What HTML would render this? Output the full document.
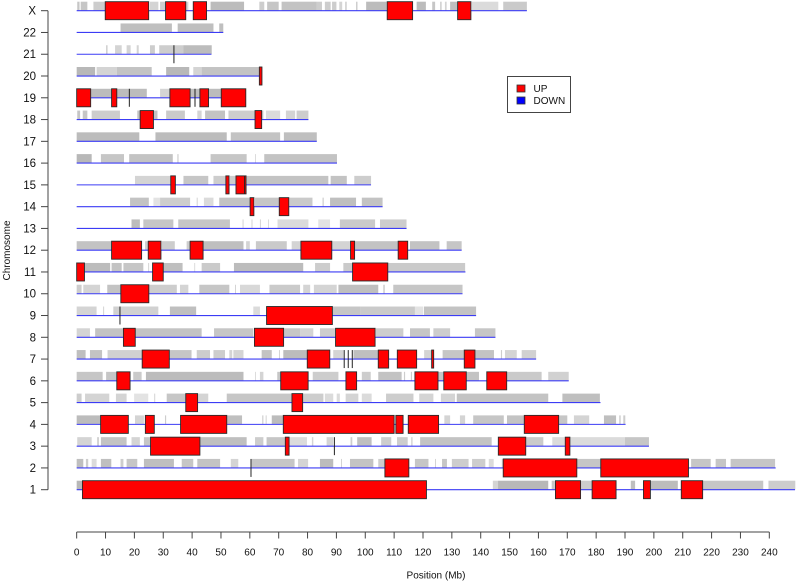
<!DOCTYPE html>
<html lang="en">
<head>
<meta charset="utf-8">
<title>Chromosome regions plot</title>
<style>
html,body{margin:0;padding:0;background:#fff;}
#chart{display:block;width:797px;height:584px;}
text{font-family:"Liberation Sans",Arial,sans-serif;fill:#111;}
</style>
</head>
<body>
<svg id="chart" xmlns="http://www.w3.org/2000/svg" width="797" height="584" viewBox="0 0 797 584">
  <g id="rows"></g>
  <g id="y-axis"></g>
  <g id="x-axis"></g>
  <text transform="translate(10,250.5) rotate(-90)" text-anchor="middle" font-size="10">Chromosome</text>
  <text x="436" y="578.5" text-anchor="middle" font-size="10">Position (Mb)</text>
  <g>
    <rect x="507.5" y="76.5" width="63" height="36" fill="#fff" stroke="#444" stroke-width="1"/>
    <rect x="517" y="85" width="8" height="7" fill="#ff0000" stroke="#333" stroke-width="0.8"/>
    <text x="533.5" y="92" font-size="10">UP</text>
    <rect x="517" y="97" width="8" height="7" fill="#0000ff" stroke="#333" stroke-width="0.8"/>
    <text x="533.5" y="104" font-size="10">DOWN</text>
  </g>
</svg>
<script>
// Chromosomes, bottom row first
const chromosomes = ['1','2','3','4','5','6','7','8','9','10','11','12','13','14','15','16','17','18','19','20','21','22','X'];
// Chromosome lengths in Mb
const chromLengths = [248.9,242.2,198.3,190.2,181.5,170.5,159.2,145.1,138.4,133.7,134.7,133.4,114.3,106,102,90.2,83.2,80.3,58.6,64.2,46.7,50.8,156];
// UP regions [start, end] in Mb
const upRegions = [
 [[2,121.2],[165.9,174.6],[178.6,186.9],[196.4,198.8],[209.5,216.9]],
 [[106.8,115.1],[147.8,173.3],[181.6,212]],
 [[25.6,42.7],[72.3,73.6],[146.1,155.6],[169.3,170.9]],
 [[8.3,17.9],[23.8,26.9],[36,52],[71.6,110],[110.6,113.1],[114.9,125.4],[155.1,167]],
 [[37.8,41.9],[74.6,78.3]],
 [[13.9,18.5],[70.7,80.2],[93.3,97],[117.2,125.2],[127.2,135],[142.1,149]],
 [[22.7,32.1],[79.9,87.7],[104.5,108.1],[111.1,117.8],[123,123.7],[134.3,138]],
 [[16.2,20.3],[61.6,71.7],[89.7,103.4]],
 [[65.8,88.6]],
 [[15.3,25]],
 [[0,2.7],[26.3,30],[95.6,107.8]],
 [[12.1,22.5],[24.8,29.2],[39.3,43.8],[77.7,88.4],[94.9,96.3],[111.4,114.7]],
 [],
 [[60.1,61.4],[70.2,73.5]],
 [[32.6,34.2],[51.7,52.8],[55.2,58.7]],
 [],
 [],
 [[22,26.6],[61.8,64.1]],
 [[0,4.85],[12.1,13.9],[32.3,39.3],[42.7,45.7],[50.1,58.6]],
 [[63.3,64.2]],
 [],
 [],
 [[9.9,24.95],[30.8,37.8],[40.4,45],[107.6,116.4],[132,136.6]]
];
// Very narrow regions, drawn as single dark marks (Mb)
const narrowRegions = [[],[60.4],[89.3],[],[],[],[92.7,94.1,95.5],[],[15],[],[],[],[],[],[58.2],[],[],[],[18.25,41],[],[33.7],[],[]];
// Measured probes [start, end, relative density] in Mb
const probeRegions = [
 [[0,2,1],[144.2,146,.6],[146,163.4,1],[164.6,165.7,.8],[174.6,178.5,.7],[192,193.5,.9],[198.8,208.3,.95],[216.9,237.9,.8],[239.7,249,.7]],
 [[0,2.3,.9],[3.2,4,.7],[5.2,6.9,.5],[8.4,12,.9],[15.2,16.2,.7],[17.3,21,.8],[23.3,33.7,.9],[36.4,40.4,.8],[41.8,49.7,.85],[53.4,56,.6],[60.6,75.5,.8],[76.7,80.2,.6],[84.3,88.9,.95],[91.6,91.9,.7],[94.7,102.8,.85],[104.5,106.8,.7],[117.2,121.9,.8],[124.2,124.5,.7],[126.6,128.3,.8],[130,135.8,.7],[137,141.6,.7],[142.8,144.5,.5],[147.3,147.8,.6],[173.3,181.6,.8],[212.9,219.7,.8],[221.4,225,.8],[226.6,242,.8]],
 [[.2,5.2,.6],[7.1,7.7,.7],[8.4,17.3,.85],[19,21.9,.6],[23.3,25.6,.8],[42.7,58.9,.9],[61.8,64.7,.7],[65.8,72.3,.8],[73.6,79.8,.5],[81.5,82,.6],[86.6,88.9,.6],[94.9,95.5,.7],[97.2,102.2,.9],[105.5,109,.7],[111,114.7,.7],[115.9,116.4,.6],[119,143.8,.85],[155.6,161.7,.75],[164.8,169.2,.5],[170.9,178.2,.5],[178.2,190,.5],[190,198.3,.8]],
 [[0,8.3,.95],[20.2,23.3,.6],[30.6,31,.7],[52,57.3,.9],[64.3,64.7,.7],[65.5,65.8,.7],[67.6,71.6,.95],[127.4,129.4,.6],[132.8,134.6,.6],[137.4,148,.8],[149.1,155.1,.85],[167,170,.8],[172.3,177.6,.6],[182.7,186.9,.9],[188,188.5,.7],[189.4,190.1,.7]],
 [[0,1.7,.7],[2.9,11.3,.6],[13.6,17.3,.6],[19.9,24.8,.4],[26.9,27.2,.7],[31.2,37.8,.8],[41.9,45.6,.6],[52,74.5,.8],[78.3,85.5,.7],[86,88.9,.5],[90.1,91.2,.5],[93.2,97.6,.6],[98.8,102.2,.5],[107.2,116.7,.7],[118.7,123.6,.6],[126.2,131.1,.6],[131.7,163.4,.85],[168.3,181.3,.9]],
 [[0,9,.8],[10.2,13.9,.8],[19.6,22.5,.75],[24,57.8,.95],[61.8,62,.7],[63.5,64.7,.6],[69.5,70.7,.8],[81.8,90.7,.7],[98.8,101.9,.7],[104.5,112.6,.85],[113.4,113.8,.7],[115.8,116.2,.7],[125.2,127.2,.8],[135,139.4,.85],[149,161.1,.75],[163.4,170.5,.65]],
 [[0,3.1,.9],[4.6,8.8,.85],[10.7,22.6,.65],[32.1,39.8,.8],[41.6,46.2,.7],[47.4,51.4,.7],[52.9,53.9,.6],[54.3,57.8,.6],[64.1,67.6,.85],[70.1,70.4,.7],[71.6,79.9,.95],[88.9,92.4,.6],[95.9,104.5,.9],[120.4,123,.6],[126.8,134.3,.8],[138,144.6,.85],[147,147.4,.7],[148.4,152.5,.6],[154.2,159.2,.65]],
 [[0,4.6,.6],[6.4,16.2,.85],[20.3,43.3,.85],[47.6,61.2,.8],[71.7,77.4,.8],[77.4,82,.6],[84.3,89.5,.7],[103.7,113.2,.7],[115.5,122.4,.8],[123.6,129.4,.7],[138,145.1,.8]],
 [[0,6.9,.6],[9.2,9.5,.7],[12.7,28.3,.65],[32.3,41.4,.9],[61.2,63.5,.5],[88.6,98.2,.8],[98.2,117.2,.75],[117.2,120,.4],[120.3,138.4,.85]],
 [[0,1.7,.7],[2.3,8.1,.6],[10.6,15.2,.85],[25,34.7,.7],[35.8,38.7,.6],[42.5,52.9,.8],[54.9,55.2,.7],[56.6,63.5,.55],[66.8,77.4,.75],[78.5,80.9,.6],[82.2,90.1,.6],[90.7,104.5,.9],[106.2,106.8,.6],[109.7,133.7,.8]],
 [[2.7,11.6,.95],[12.1,15.6,.85],[16.2,23.1,.8],[24.8,25.1,.7],[30,36.7,.9],[40.8,41,.7],[43.3,49.7,.75],[54.5,78.5,.95],[82.6,87.8,.7],[92.4,95.6,.75],[107.8,134.6,.75]],
 [[0,12.1,.85],[23.7,24.8,.7],[29.5,34,.7],[38.1,39.3,.7],[43.9,57.8,.9],[58.7,60,.6],[62.1,72.8,.75],[74.5,77.6,.6],[88.4,94.7,.6],[96.4,111.4,.85],[115.5,125.7,.85],[128.2,133.4,.8]],
 [[19,21.9,.95],[23.1,33.5,.8],[35.2,53.1,.8],[57.5,57.8,.7],[60.6,60.9,.7],[63.5,63.8,.7],[66.4,66.6,.7],[69.6,80.3,.5],[83.7,87.8,.4],[91.2,103.4,.75],[105.1,114.3,.7]],
 [[18.5,25,.85],[26.6,28.9,.4],[28.9,39.3,.7],[41.6,41.9,.7],[44.1,47.4,.5],[49.4,60.1,.85],[61.8,70.2,.8],[73.7,81.7,.75],[85.2,85.6,.7],[87.8,96.8,.9],[98.8,106,.85]],
 [[20.2,32.6,.6],[37,45.6,.8],[47.4,51.7,.7],[53.1,55.2,.7],[58.9,87.2,.85],[88,93.6,.85],[96.2,102,.7]],
 [[0,5.2,1],[8.4,16.4,.8],[18.2,33.3,.85],[34.9,35.3,.7],[46.4,58.9,.8],[61.8,62,.7],[65,90.2,.85]],
 [[0,21.7,.95],[27.3,52,.95],[53.4,70.5,.85],[71.8,83.2,.9]],
 [[.2,1.2,.8],[2.1,3.7,.8],[5.2,15,.7],[21,28,.85],[31,37.5,.75],[41.8,43.3,.6],[44.5,51.4,.85],[52.6,61.8,.7],[64.1,64.7,.7],[65.6,70.5,.5],[72.5,75.7,.6],[76.2,80.3,.7]],
 [[4.85,24.3,.95],[28.9,32.3,.6],[39.3,42.7,.9],[45.7,50.1,.95]],
 [[0,6.4,1],[6.9,13.9,.6],[13.9,26,.85],[31,39,1],[40.4,43.3,.6],[43.3,63.5,.85]],
 [[10.2,10.7,.7],[13.3,15.6,.6],[17.3,18.7,.6],[20.8,21.5,.6],[25.4,27.1,.7],[28.6,37,.7],[37,46.8,.95]],
 [[15.2,33,.9],[35,47.4,.9],[49.4,50.8,.9]],
 [[.2,1,.8],[1.4,3.7,.8],[5.8,9.8,.7],[25.4,28.3,.6],[28.9,30.8,.7],[37.5,38.7,.6],[46.4,58,.95],[63.3,65,.7],[66,70,.8],[71,83.2,.85],[83.2,85,.7],[86,88,.7],[88.5,90,.7],[91,92,.6],[93,93.6,.6],[96.8,97.3,.7],[100.3,107.4,.95],[117.8,121,.95],[123.2,124.2,.8],[125.9,126.5,.6],[127.6,128.2,.6],[129.4,131.9,.9],[136.9,146.1,.5],[147.8,156,.75]]
];
// Axis tick labels
const xTicks = [0,10,20,30,40,50,60,70,80,90,100,110,120,130,140,150,160,170,180,190,200,210,220,230,240];

const SVGNS = 'http://www.w3.org/2000/svg';
const xOrigin = 76.67, xPerMb = 2.886;
const yFirstRow = 489.7, rowStep = 21.773;
const xScale = mb => xOrigin + mb * xPerMb;
const yScale = i => yFirstRow - i * rowStep;
function make(parent, tag, attrs, text) {
  const el = document.createElementNS(SVGNS, tag);
  for (const k in attrs) el.setAttribute(k, attrs[k]);
  if (text !== undefined) el.textContent = text;
  parent.appendChild(el);
  return el;
}

const rows = document.getElementById('rows');
chromosomes.forEach((name, i) => {
  const y = yScale(i);
  const row = make(rows, 'g', {});
  
  

  probeRegions[i].forEach(r => {
    const el = make(row, 'rect', {x: xScale(r[0]), y: y - 9, width: Math.max(0.7, (r[1] - r[0]) * xPerMb), height: 9, fill: '#b8b8b8', 'fill-opacity': r[2]});
    
    
  });

  const line = make(row, 'line', {x1: xScale(0), x2: xScale(chromLengths[i]), y1: y, y2: y, stroke: '#3c3cf5', 'stroke-width': 1.1});
  
  

  upRegions[i].forEach(r => {
    const el = make(row, 'rect', {x: xScale(r[0]), y: y - 9, width: (r[1] - r[0]) * xPerMb, height: 18, fill: '#ff0000', stroke: '#2a2a2a', 'stroke-width': 0.9});
    
    
  });

  narrowRegions[i].forEach(mb => {
    const el = make(row, 'line', {x1: xScale(mb), x2: xScale(mb), y1: y - 9, y2: y + 9, stroke: '#222', 'stroke-width': 1});
    
    
  });
});

const yAxis = document.getElementById('y-axis');
const yLine = make(yAxis, 'line', {x1: 48, x2: 48, y1: yScale(chromosomes.length - 1), y2: yScale(0), stroke: '#444', 'stroke-width': 1});


chromosomes.forEach((name, i) => {
  const y = yScale(i);
  const tick = make(yAxis, 'line', {x1: 41, x2: 48, y1: y, y2: y, stroke: '#444', 'stroke-width': 1});
  
  
  const label = make(yAxis, 'text', {x: 36, y: y + 4, 'text-anchor': 'end', 'font-size': 11.5}, name);
  
  
});

const xAxis = document.getElementById('x-axis');
const xAxisY = 532;
const xLine = make(xAxis, 'line', {x1: xScale(xTicks[0]), x2: xScale(xTicks[xTicks.length - 1]), y1: xAxisY, y2: xAxisY, stroke: '#444', 'stroke-width': 1});


xTicks.forEach(v => {
  const x = xScale(v);
  const tick = make(xAxis, 'line', {x1: x, x2: x, y1: xAxisY, y2: xAxisY + 6.5, stroke: '#444', 'stroke-width': 1});
  
  
  const label = make(xAxis, 'text', {x: x, y: 555.5, 'text-anchor': 'middle', 'font-size': 10}, String(v));
  
  
});
</script>
</body>
</html>
